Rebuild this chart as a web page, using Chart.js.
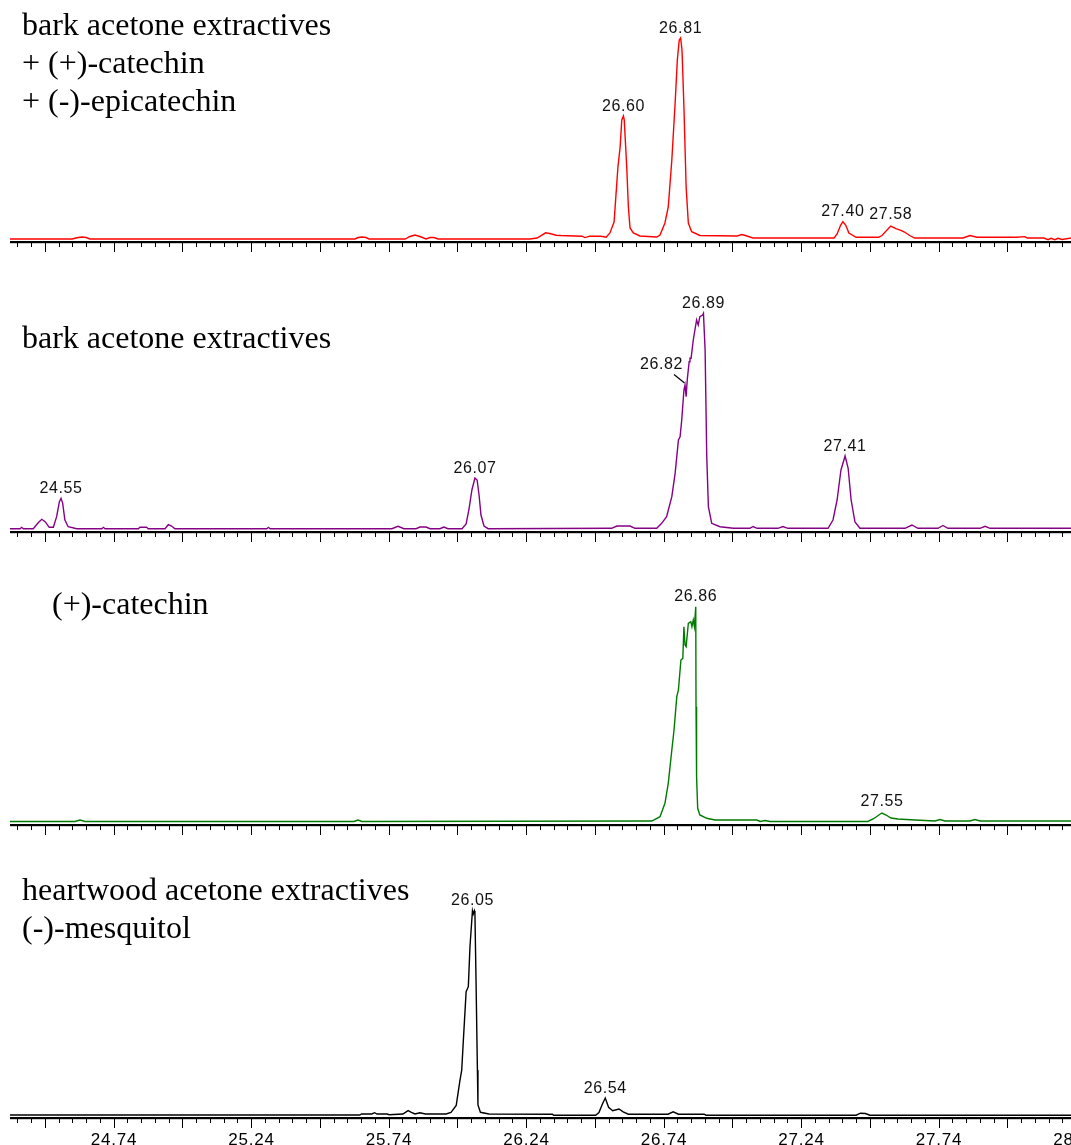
<!DOCTYPE html>
<html>
<head>
<meta charset="utf-8">
<script src="https://cdn.jsdelivr.net/npm/chart.js@4.4.1/dist/chart.umd.min.js"></script>
<style>
  html, body { margin: 0; padding: 0; background: #ffffff; }
  body { position: relative; width: 1071px; height: 1145px; overflow: hidden; }
  canvas { position: absolute; left: 0; display: block; }
</style>
</head>
<body>
<canvas id="p1"></canvas>
<canvas id="p2"></canvas>
<canvas id="p3"></canvas>
<canvas id="p4"></canvas>
<script>
// ---------------- DATA (retention time in min, intensity in arbitrary units) ----------------
const tickLabels = ["24.74","25.24","25.74","26.24","26.74","27.24","27.74","28.24"];
const majorTicks = [24.49,24.74,24.99,25.24,25.49,25.74,25.99,26.24,26.49,26.74,26.99,27.24,27.49,27.74,27.99];

// Panel 1: bark acetone extractives + (+)-catechin + (-)-epicatechin (red)
const time1 = [24.363,24.589,24.611,24.625,24.640,24.654,25.618,25.629,25.643,25.658,25.669,25.800,25.818,25.836,25.854,25.876,25.891,25.905,25.920,26.254,26.280,26.311,26.330,26.349,26.367,26.443,26.454,26.472,26.512,26.531,26.545,26.560,26.574,26.582,26.588,26.594,26.597,26.606,26.612,26.618,26.630,26.654,26.715,26.727,26.745,26.757,26.770,26.782,26.790,26.797,26.802,26.807,26.814,26.822,26.830,26.842,26.872,27.007,27.025,27.043,27.065,27.360,27.371,27.384,27.392,27.402,27.414,27.440,27.522,27.534,27.566,27.585,27.603,27.616,27.635,27.653,27.829,27.854,27.880,28.022,28.054,28.062,28.123,28.138,28.149,28.163,28.174,28.189,28.222];
const int1  = [3,3,4.5,5,4.5,3,3,4.5,5,4.5,3,3,5.5,7,5.5,3,4.5,4.5,3,3,4,9.2,8.2,6.8,6.5,5.8,4.4,5.8,5.8,4.7,9,20,75,95,122,126,122,75,35,14,9,6,5,7,19,35,82,139,182,202,204,192,135,55,19,10.3,6.5,6,7.5,6,4,4,8,17,20.3,17,9,4.7,4.7,6.5,16,13.4,11.6,10,6.5,4,4,6.5,4.7,4.7,5.4,4,4,2.3,3.7,2.3,3.7,2.5,4];
const peaks1 = ["26.60","26.81","27.40","27.58"];
const title1 = ["bark acetone extractives","+ (+)-catechin","+ (-)-epicatechin"];

// Panel 2: bark acetone extractives (purple)
const time2 = [24.363,24.400,24.406,24.412,24.448,24.466,24.479,24.491,24.506,24.521,24.533,24.543,24.549,24.555,24.563,24.575,24.606,24.697,24.703,24.709,24.830,24.836,24.860,24.866,24.927,24.939,24.951,24.963,25.297,25.303,25.309,25.752,25.774,25.796,25.840,25.854,25.876,25.891,25.927,25.941,25.956,26.007,26.022,26.032,26.043,26.054,26.062,26.069,26.076,26.087,26.102,26.551,26.570,26.618,26.636,26.715,26.733,26.751,26.770,26.782,26.794,26.800,26.806,26.814,26.818,26.822,26.826,26.833,26.836,26.840,26.848,26.860,26.866,26.872,26.882,26.885,26.891,26.897,26.903,26.915,26.945,26.994,27.054,27.065,27.080,27.156,27.174,27.192,27.338,27.356,27.371,27.385,27.400,27.411,27.422,27.436,27.454,27.618,27.643,27.665,27.738,27.756,27.774,27.891,27.909,27.927,28.222];
const int2  = [3.3,3.3,4.7,3.3,3.3,9.3,12.7,10.3,4.7,4.7,15.3,30.3,33.7,28.7,12,5.3,3.3,3.3,4.7,3.3,3.3,4.7,4.7,3.3,3.3,7.3,6,3.3,3.3,4.7,3.3,3.3,5.7,3.3,3.3,5,5,3.3,3.3,5,3.3,3.3,8,22,42,54,52,37,17,6,3.3,3.7,6,6,3.7,3.7,8.7,15.3,35.3,58.7,92,95.3,112,142,147,135.3,152,170.3,173.7,173.7,192,212,207,215.3,217,218.7,182,75.3,25.3,8.7,5.3,3.7,3.7,5.5,3.7,3.7,5.5,3.7,3.7,12,32,62,76,64,32,10,3.7,3.7,7,3.7,3.7,6.5,3.7,3.7,5.7,3.7,3.7];
const peaks2 = ["24.55","26.07","26.82","26.89","27.41"];
const title2 = ["bark acetone extractives"];

// Panel 3: (+)-catechin (green)
const time3 = [24.363,24.600,24.618,24.636,25.614,25.629,25.643,26.697,26.709,26.727,26.745,26.757,26.770,26.778,26.788,26.794,26.803,26.810,26.814,26.818,26.822,26.830,26.839,26.843,26.848,26.852,26.857,26.858,26.860,26.864,26.872,26.897,26.927,27.079,27.091,27.109,27.127,27.483,27.505,27.523,27.534,27.549,27.567,27.592,27.654,27.727,27.745,27.763,27.854,27.872,27.891,28.222];
const int3  = [3.5,3.5,5,3.5,3.5,5,3.5,4,5.7,8.3,21.7,41.7,75,95,128.3,135,165,166.7,198.3,180,178.3,201.7,203.3,198.3,205,198.3,218.3,118.3,48.3,16.7,10,6.7,5,5,3.5,4.5,3.5,3.5,6.5,10,12,10,7,6,5,4,5.5,4,4,5.5,4,4];
const peaks3 = ["26.86","27.55"];
const title3 = ["(+)-catechin"];

// Panel 4: heartwood acetone extractives, (-)-mesquitol (black)
const time4 = [24.363,25.635,25.642,25.679,25.689,25.698,25.735,25.742,25.792,25.811,25.823,25.836,25.854,25.874,25.949,25.967,25.986,25.999,26.006,26.012,26.022,26.030,26.036,26.045,26.048,26.052,26.054,26.058,26.063,26.065,26.074,26.105,26.336,26.340,26.493,26.505,26.518,26.528,26.540,26.555,26.578,26.593,26.612,26.756,26.775,26.794,26.888,26.894,27.440,27.456,27.474,27.490,28.222];
const int4  = [3,3,4,4,5.3,4,4,3.3,4,7.4,5.7,4,5.3,4,4,5.7,12.6,36.7,48,78,126.3,131.3,171.3,207.3,204,207.3,204.7,138,48,13,5.7,4,3.8,2.8,2.8,5.5,14.2,20,10.7,7.3,9,6.2,3.8,3.8,6.2,3.8,3.8,2.8,2.8,4.8,4.5,2.8,2.8];
const peaks4 = ["26.05","26.54"];
const title4 = ["heartwood acetone extractives","(-)-mesquitol"];

// ---------------- RENDERING ----------------
const X_MIN = 24.3634, X_MAX = 28.2215;
const W = 1071;

function minorTickValues() {
  const out = [];
  for (let k = 0; k < 80; k++) out.push(Math.round((24.39 + k * 0.05) * 1000) / 1000);
  return out;
}
const minorTicks = minorTickValues();

const decor = {
  id: 'decor',
  afterDatasetsDraw(chart, args, o) {
    const ctx = chart.ctx;
    const { left, right, bottom } = chart.chartArea;
    const xs = chart.scales.x, ys = chart.scales.y;
    ctx.save();
    // axis line
    ctx.fillStyle = '#000';
    ctx.fillRect(left, bottom - 1, right - left, 2.2);
    // ticks
    ctx.strokeStyle = '#000';
    ctx.lineWidth = 1;
    const drawTick = (v, len) => {
      const px = xs.getPixelForValue(v);
      if (px < left - 0.5 || px > right + 0.5) return;
      const xx = Math.round(px) + 0.5;
      ctx.beginPath();
      ctx.moveTo(xx, bottom + 1);
      ctx.lineTo(xx, bottom + len);
      ctx.stroke();
    };
    minorTicks.forEach(v => drawTick(v, 5));
    majorTicks.forEach(v => drawTick(v, 10));
    if (o.showLabels) {
      ctx.font = "17px 'Liberation Sans', Arial, sans-serif";
      try { ctx.letterSpacing = '0.8px'; } catch (e) {}
      ctx.fillStyle = '#000';
      ctx.textAlign = 'center';
      ctx.textBaseline = 'alphabetic';
      tickLabels.forEach(lbl => {
        const px = xs.getPixelForValue(parseFloat(lbl));
        ctx.fillText(lbl, px + 0.4, bottom + 27);
      });
      try { ctx.letterSpacing = '0px'; } catch (e) {}
    }
    // titles
    ctx.font = "32px 'Liberation Serif', 'Times New Roman', serif";
    ctx.fillStyle = '#000';
    ctx.textAlign = 'left';
    ctx.textBaseline = 'alphabetic';
    o.titles.forEach((t, i) => ctx.fillText(t, o.titleX, o.titleY + i * o.titleGap));
    // peak labels
    const ds = chart.data.datasets[0].data;
    ctx.font = "16px 'Liberation Sans', Arial, sans-serif";
    try { ctx.letterSpacing = '0.6px'; } catch (e) {}
    ctx.textAlign = 'center';
    ctx.fillStyle = '#111';
    o.peaks.forEach(lbl => {
      const v = parseFloat(lbl);
      const st = (o.peakStyle && o.peakStyle[lbl]) || {};
      let best = null;
      if (st.leader) {
        const d = p => Math.round(Math.abs(p.x - v) * 1e5);
        ds.forEach(p => { if (!best || d(p) < d(best)) best = p; });
      } else {
        ds.forEach(p => { if (Math.abs(p.x - v) <= 0.03 && (!best || p.y > best.y)) best = p; });
      }
      const ax = xs.getPixelForValue(best.x), ay = ys.getPixelForValue(best.y);
      if (st.leader) {
        ctx.strokeStyle = '#000';
        ctx.lineWidth = 1.2;
        ctx.beginPath();
        ctx.moveTo(ax - 0.5, ay - 2);
        ctx.lineTo(ax - 11, ay - 10.5);
        ctx.stroke();
        ctx.fillText(lbl, ax - 23.5, ay - 16);
      } else {
        ctx.fillText(lbl, ax, ay - (st.gap || 5.5));
      }
    });
    try { ctx.letterSpacing = '0px'; } catch (e) {}
    ctx.restore();
  }
};

function makePanel(id, top, areaH, canvasH, times, ints, color, decorOpts) {
  const cv = document.getElementById(id);
  cv.width = W; cv.height = canvasH;
  cv.style.top = top + 'px';
  cv.style.width = W + 'px'; cv.style.height = canvasH + 'px';
  const pts = times.map((t, i) => ({ x: t, y: ints[i] }));
  return new Chart(cv.getContext('2d'), {
    type: 'line',
    data: { datasets: [{ data: pts, borderColor: color, borderWidth: 1.4, pointRadius: 0, tension: 0, fill: false }] },
    options: {
      responsive: false,
      animation: false,
      events: [],
      devicePixelRatio: 1,
      layout: { padding: { left: 10, right: 0, top: 0, bottom: canvasH - areaH } },
      scales: {
        x: { type: 'linear', min: X_MIN, max: X_MAX, display: false },
        y: { type: 'linear', min: 0, max: areaH, display: false }
      },
      plugins: { legend: { display: false }, tooltip: { enabled: false }, decor: decorOpts }
    },
    plugins: [decor]
  });
}

makePanel('p1', 0, 242, 258, time1, int1, '#ff0000', {
  showLabels: false, titles: title1, titleX: 22, titleY: 35, titleGap: 38,
  peaks: peaks1, peakStyle: { "27.40": { gap: 6 }, "27.58": { gap: 7 } }
});
makePanel('p2', 258, 274, 290, time2, int2, '#850085', {
  showLabels: false, titles: title2, titleX: 22, titleY: 90, titleGap: 38,
  peaks: peaks2, peakStyle: { "26.82": { leader: true } }
});
makePanel('p3', 548, 277, 292, time3, int3, '#007a00', {
  showLabels: false, titles: title3, titleX: 52, titleY: 66, titleGap: 38,
  peaks: peaks3, peakStyle: { "27.55": { gap: 7 } }
});
makePanel('p4', 840, 278, 305, time4, int4, '#000000', {
  showLabels: true, titles: title4, titleX: 22, titleY: 60, titleGap: 38,
  peaks: peaks4, peakStyle: {}
});
</script>
</body>
</html>
